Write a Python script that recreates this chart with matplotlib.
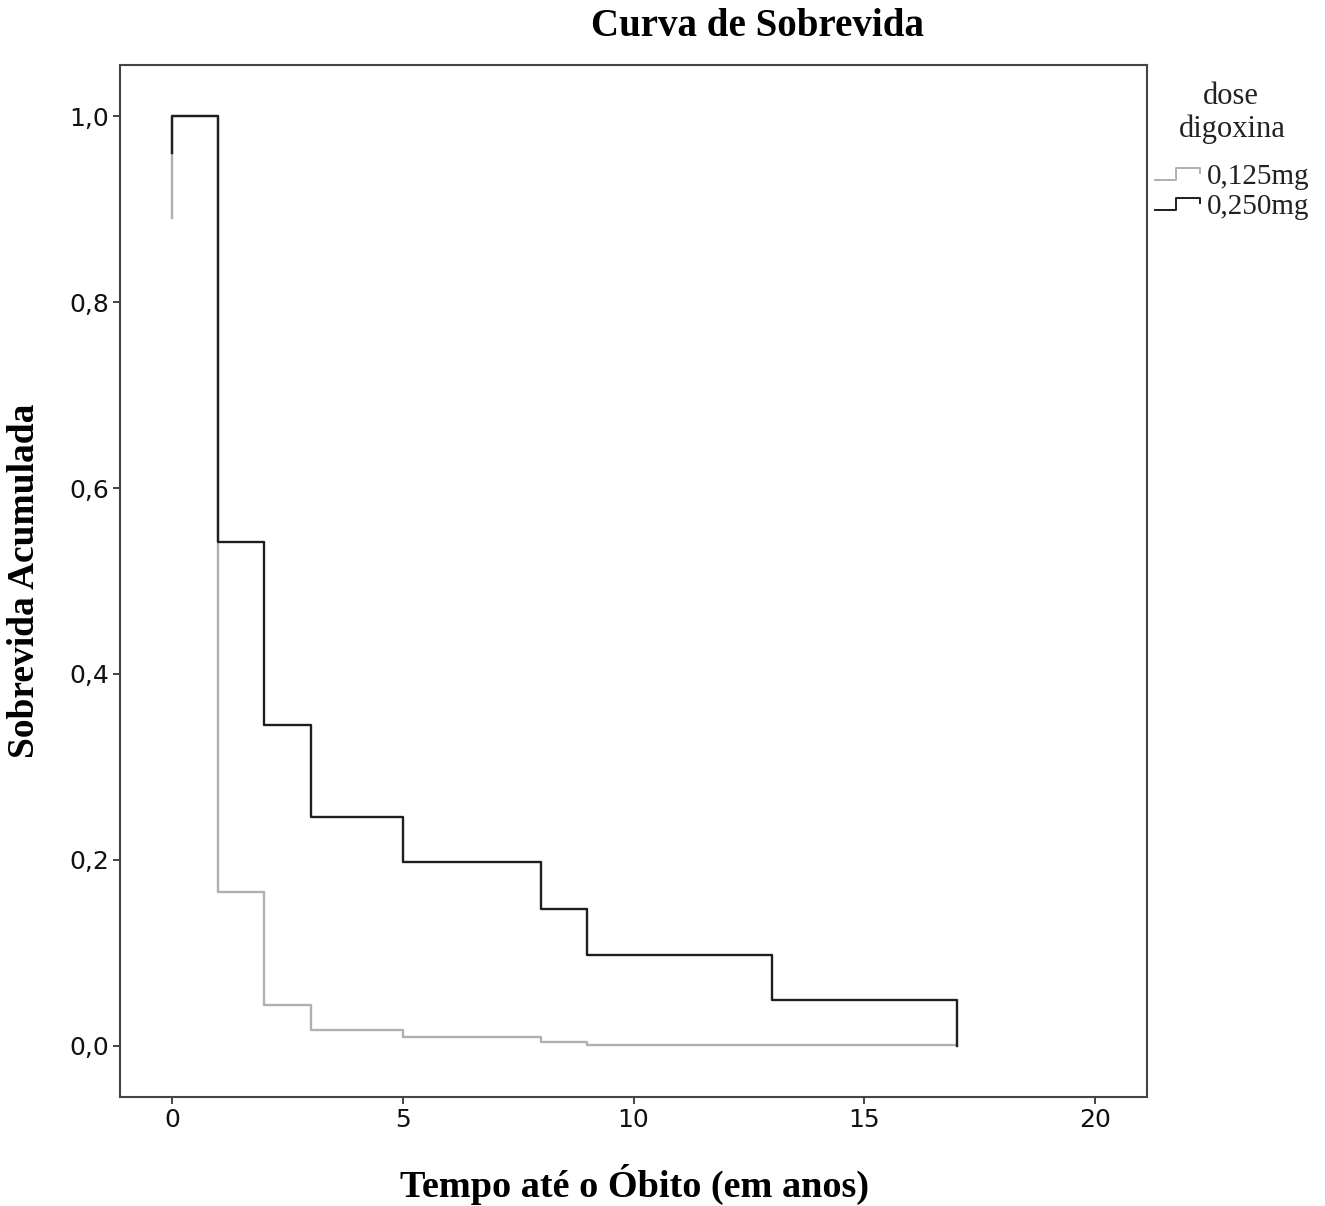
import matplotlib
matplotlib.use('Agg')
import matplotlib.pyplot as plt
from matplotlib.lines import Line2D

# Kaplan-Meier style steps
dose_labels = ['0,125mg', '0,250mg']
times_125 = [0, 0, 1, 2, 3, 5, 8, 9, 17]
surv_125 = [0.89, 1.0, 0.165, 0.044, 0.017, 0.010, 0.004, 0.001, 0.001]
times_250 = [0, 0, 1, 2, 3, 5, 8, 9, 13, 17]
surv_250 = [0.96, 1.0, 0.542, 0.345, 0.246, 0.198, 0.147, 0.098, 0.049, 0.0]
x_ticks = [0, 5, 10, 15, 20]
y_ticks = [0.0, 0.2, 0.4, 0.6, 0.8, 1.0]

light = '#b0b0b0'
dark = '#1e1e1e'
frame = '#444444'

fig = plt.figure(figsize=(13.25, 12.06), dpi=100)
ax = fig.add_axes([0.0906, 0.0904, 0.7751, 0.8557])

ax.step(times_125, surv_125, where='post', color=light, lw=1.7, zorder=2)
ax.step(times_250, surv_250, where='post', color=dark, lw=1.7, zorder=3)

ax.set_xlim(-1.13, 21.13)
ax.set_ylim(-0.055, 1.055)
ax.set_xticks(x_ticks)
ax.set_xticklabels([str(t) for t in x_ticks])
ax.set_yticks(y_ticks)
ax.set_yticklabels([f'{v:.1f}'.replace('.', ',') for v in y_ticks])
ax.tick_params(direction='out', length=5, width=1.4, color=frame,
               labelsize=18, pad=3, labelcolor='#111111')
for s in ax.spines.values():
    s.set_color(frame)
    s.set_linewidth(1.5)

serif = 'Liberation Serif'
fig.text(757 / 1325, 1 - 27 / 1206, 'Curva de Sobrevida', family=serif,
         fontweight='bold', fontsize=28, ha='center', va='center')
fig.text(635 / 1325, 1 - 1184 / 1206, 'Tempo até o Óbito (em anos)',
         family=serif, fontweight='bold', fontsize=27.5, ha='center',
         va='center')
fig.text(25 / 1325, 1 - 581 / 1206, 'Sobrevida Acumulada', family=serif,
         fontweight='bold', fontsize=27, ha='center', va='center',
         rotation=90)

# legend
fig.text(1231 / 1325, 1 - 97 / 1206, 'dose', family=serif, fontsize=22,
         ha='center', va='center', color='#222222')
fig.text(1232 / 1325, 1 - 129 / 1206, 'digoxina', family=serif, fontsize=22,
         ha='center', va='center', color='#222222')


def icon(y0, color):
    xs = [1155, 1176, 1176, 1200, 1200]
    ys = [y0, y0, y0 - 12, y0 - 12, y0 - 7]
    fig.add_artist(Line2D([x / 1325 for x in xs], [1 - y / 1206 for y in ys],
                          color=color, lw=1.4, transform=fig.transFigure))


icon(180, light)
icon(210, dark)
fig.text(1207 / 1325, 1 - 177 / 1206, dose_labels[0], family=serif,
         fontsize=21, ha='left', va='center', color='#222222')
fig.text(1207 / 1325, 1 - 207 / 1206, dose_labels[1], family=serif,
         fontsize=21, ha='left', va='center', color='#222222')

fig.savefig('out.png', dpi=100, facecolor='white')
